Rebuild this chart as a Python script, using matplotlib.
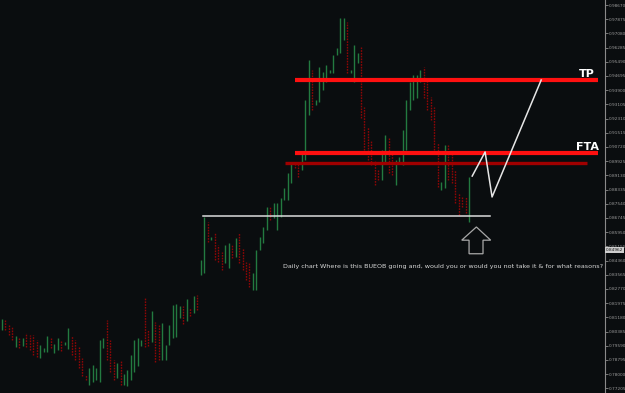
import numpy as np
import matplotlib.pyplot as plt
from matplotlib.collections import LineCollection
from matplotlib.patches import Polygon

# daily bars, left to right (high / low), G = up bar, R = down bar
highs = [
    0.8109, 0.8103, 0.8075, 0.8064, 0.8013, 0.8002, 0.8002, 0.8030, 0.8019, 0.8019,
    0.7991, 0.7963, 0.7946, 0.8013, 0.8008, 0.7969, 0.8002, 0.7985, 0.7980, 0.8058,
    0.8013, 0.7991, 0.7952, 0.7890, 0.7795, 0.7834, 0.7851, 0.7834, 0.7991, 0.8002,
    0.8103, 0.7991, 0.7879, 0.7862, 0.7879, 0.7801, 0.7823, 0.7907, 0.7991, 0.8002,
    0.7991, 0.8226, 0.8047, 0.8153, 0.8092, 0.8075, 0.8086, 0.7963, 0.8075, 0.8187,
    0.8193, 0.8181, 0.8181, 0.8221, 0.8170, 0.8237, 0.8243,
    0.8439, 0.8680, 0.8652, 0.8568, 0.8590, 0.8523, 0.8484, 0.8523, 0.8534, 0.8523,
    0.8562, 0.8590, 0.8506, 0.8428, 0.8422, 0.8366, 0.8495, 0.8568, 0.8624, 0.8736,
    0.8736, 0.8758, 0.8758, 0.8786, 0.8842, 0.8926, 0.8982, 0.8988, 0.8982, 0.9044,
    0.9335, 0.9559, 0.9503, 0.9335, 0.9520, 0.9492, 0.9531, 0.9503, 0.9587, 0.9626,
    0.9794, 0.9794, 0.9772, 0.9503, 0.9643, 0.9598, 0.9632, 0.9296, 0.9184, 0.9111,
    0.8999, 0.8943, 0.9055, 0.9139, 0.9128, 0.9055, 0.8999, 0.9016, 0.9167, 0.9335,
    0.9436, 0.9475, 0.9475, 0.9503, 0.9520, 0.9447, 0.9352, 0.9296, 0.9094, 0.8876,
    0.9083, 0.9083, 0.9055, 0.8943, 0.8814, 0.8792, 0.8792, 0.8904,
]
lows = [
    0.8047, 0.8047, 0.8019, 0.7991, 0.7952, 0.7946, 0.7957, 0.7952, 0.7935, 0.7907,
    0.7896, 0.7890, 0.7924, 0.7924, 0.7946, 0.7918, 0.7935, 0.7929, 0.7963, 0.7941,
    0.7907, 0.7879, 0.7834, 0.7789, 0.7767, 0.7739, 0.7756, 0.7767, 0.7756, 0.7946,
    0.7879, 0.7812, 0.7767, 0.7778, 0.7739, 0.7739, 0.7733, 0.7767, 0.7812, 0.7845,
    0.7957, 0.7952, 0.7957, 0.7980, 0.7868, 0.7879, 0.7879, 0.7879, 0.7963, 0.8002,
    0.8008, 0.8114, 0.8081, 0.8097, 0.8125, 0.8142, 0.8159,
    0.8355, 0.8366, 0.8540, 0.8551, 0.8439, 0.8428, 0.8383, 0.8422, 0.8394, 0.8450,
    0.8456, 0.8422, 0.8383, 0.8327, 0.8288, 0.8271, 0.8271, 0.8495, 0.8534, 0.8607,
    0.8663, 0.8674, 0.8607, 0.8680, 0.8775, 0.8775, 0.8870, 0.8954, 0.8904, 0.8943,
    0.8999, 0.9251, 0.9279, 0.9307, 0.9324, 0.9391, 0.9436, 0.9486, 0.9486, 0.9587,
    0.9598, 0.9671, 0.9486, 0.9486, 0.9436, 0.9542, 0.9234, 0.9055, 0.8999, 0.8971,
    0.8859, 0.8887, 0.8887, 0.8982, 0.8926, 0.8915, 0.8859, 0.8982, 0.8971, 0.9055,
    0.9279, 0.9335, 0.9346, 0.9436, 0.9346, 0.9279, 0.9223, 0.9055, 0.8848, 0.8831,
    0.8842, 0.8887, 0.8870, 0.8758, 0.8691, 0.8736, 0.8702, 0.8652,
]
direction = ("GRRRGRGRRR" "RGGGRGGRGG" "RRRRRGGGGG" "RRRGRGGGGG" "GRRGRRGGGG"
             "GGRGRGRGGR" "GRRRGGRGRR" "RRGGGGGRGG" "GGGGRRGGGR" "GGGGGGGGGR"
             "GGGRRRRRRG" "GRRGGGGGGG" "GRRRRRGGRR" "RRRRG")

tick_labels = ["0.98670", "0.97875", "0.97080", "0.96285", "0.95490", "0.94695",
               "0.93900", "0.93105", "0.92310", "0.91515", "0.90720", "0.89925",
               "0.89130", "0.88335", "0.87540", "0.86745", "0.85950", "0.85155",
               "0.84360", "0.83565", "0.82770", "0.81975", "0.81180", "0.80385",
               "0.79590", "0.78795", "0.78000", "0.77205"]
tick_prices = [float(t) for t in tick_labels]
current_price = 0.84962

# drawn levels / scribbles (bar index, price)
tp_level = 0.9447
fta_level = 0.9038
fta_low_level = 0.8982
base_level = 0.8685
path_x = [134.9, 138.6, 140.6, 154.7]
path_y = [0.8909, 0.9044, 0.8792, 0.9447]

bg = "#0a0d0f"
green = "#237a40"
red = "#8e0606"

fig = plt.figure(figsize=(6.25, 3.93), dpi=100, facecolor=bg)
ax = fig.add_axes([0, 0, 605 / 625, 1])
ax.set_facecolor(bg)

x = np.arange(len(highs))
segs_g = [((i, lows[i]), (i, highs[i])) for i in x if direction[i] == "G"]
segs_r = [((i, lows[i]), (i, highs[i])) for i in x if direction[i] == "R"]
ax.add_collection(LineCollection(segs_g, colors=green, linewidths=1.0))
ax.add_collection(LineCollection(segs_r, colors=red, linewidths=1.0,
                                 linestyles=[(0, (1.2, 0.8))]))

# horizontal levels
ax.plot([84.1, 171.0], [tp_level] * 2, color="#ff1010", lw=3.0, solid_capstyle="butt", zorder=3)
ax.plot([84.1, 171.0], [fta_level] * 2, color="#ff1010", lw=3.0, solid_capstyle="butt", zorder=3)
ax.plot([81.2, 167.9], [fta_low_level] * 2, color="#a00000", lw=2.4, solid_capstyle="butt", zorder=3)
ax.plot([57.7, 140.0], [base_level] * 2, color="#dcdcdc", lw=1.1, zorder=3)
ax.plot(path_x, path_y, color="#e6e6e6", lw=1.1, zorder=3)

# hollow up arrow
arrow = [(136.1, 0.8624), (131.9, 0.8550), (134.0, 0.8550), (134.0, 0.8474),
         (138.0, 0.8474), (138.0, 0.8550), (140.2, 0.8550)]
ax.add_patch(Polygon(arrow, closed=True, fill=False, edgecolor="#a8a8a8", lw=0.9, zorder=3))

ax.text(165.5, tp_level + 0.0006, "TP", color="white", fontsize=8, fontweight="bold",
        va="bottom", ha="left")
ax.text(164.6, fta_level + 0.0006, "FTA", color="white", fontsize=8, fontweight="bold",
        va="bottom", ha="left")
ax.text(80.6, 0.8405, "Daily chart Where is this BUEOB going and, would you or would "
        "you not take it & for what reasons?", color="#d8d8d8", fontsize=4.55,
        va="center", ha="left")

ax.set_xlim(-0.574, 173.0)
ax.set_ylim(0.76942, 0.9895)

for s in ["top", "left", "bottom"]:
    ax.spines[s].set_visible(False)
ax.spines["right"].set_color("#8a8a8a")
ax.spines["right"].set_linewidth(0.8)
ax.set_xticks([])
ax.yaxis.tick_right()
ax.set_yticks(tick_prices)
ax.set_yticklabels(tick_labels)
ax.tick_params(axis="y", colors="#8a8a8a", labelsize=3.1, length=2, width=0.6, pad=0.6)
for lbl in ax.get_yticklabels():
    lbl.set_color("#9a9a9a")

ax.text(1.001, current_price, f"{current_price:.5f}", transform=ax.get_yaxis_transform(),
        fontsize=3.1, color="#111111", va="center", ha="left", clip_on=False, zorder=5,
        bbox=dict(boxstyle="square,pad=0.25", facecolor="#cfcfcf", edgecolor="none"))

fig.savefig("out.png", dpi=100, facecolor=bg)
